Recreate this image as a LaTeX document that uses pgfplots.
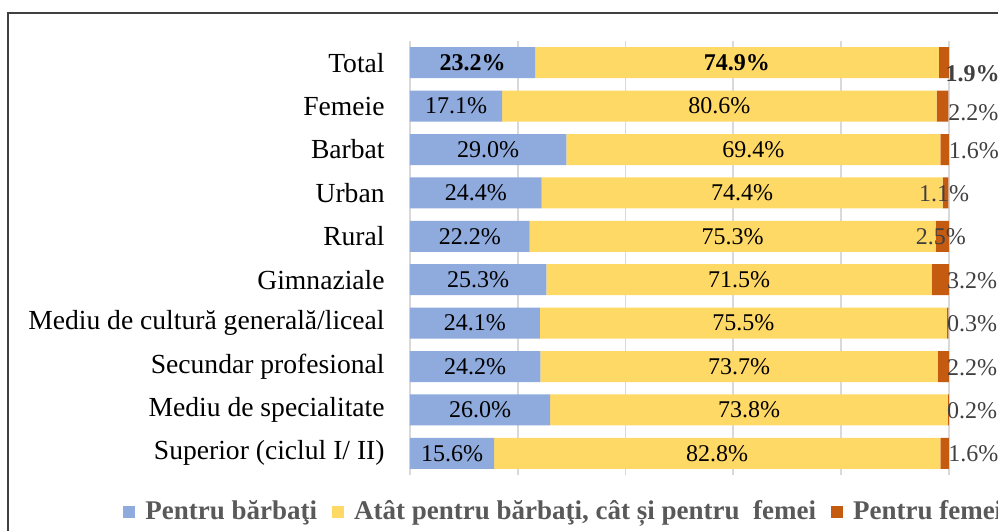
\documentclass[border=0pt]{standalone}
\usepackage{fontspec}
\setmainfont{Liberation Serif}
\usepackage{pgfplots}
\usepackage{pgfplotstable}
\pgfplotsset{compat=1.18}

\definecolor{cBlue}{HTML}{8FAADC}
\definecolor{cYellow}{HTML}{FFD966}
\definecolor{cOrange}{HTML}{C55A11}
\definecolor{cGrid}{HTML}{D9D9D9}
\definecolor{cLab}{HTML}{404040}
\definecolor{cLeg}{HTML}{595959}

% a = barbati, b = ambele, c = femei; xl/yl = where the right-hand label sits
\pgfplotstableread{
y a    b    c   xl   yl
0 23.2 74.9 1.9 99.3 0.25
1 17.1 80.6 2.2 99.8 1.15
2 29.0 69.4 1.6 99.9 2.02
3 24.4 74.4 1.1 94.4 3.02
4 22.2 75.3 2.5 93.8 4.02
5 25.3 71.5 3.2 99.6 5.02
6 24.1 75.5 0.3 99.6 6.02
7 24.2 73.7 2.2 99.6 7.02
8 26.0 73.8 0.2 99.6 8.02
9 15.6 82.8 1.6 99.8 9.02
}\data

\pgfplotsset{
  base/.style={
    at={(205pt,28pt)}, anchor=south west,
    scale only axis, width=269.5pt, height=217pt,
    xmin=0, xmax=100, ymin=-0.5, ymax=9.5, y dir=reverse,
  },
  lab/.style={draw=none, mark=none, nodes near coords align=center,
    every node near coord/.append style={inner sep=0pt,
      font=\fontsize{12}{14}\selectfont, text=black}},
  rlab/.style={draw=none, mark=none, nodes near coords align=west,
    every node near coord/.append style={inner sep=0pt,
      font=\fontsize{12}{14}\selectfont, text=cLab}},
}

\begin{document}
\begin{tikzpicture}
\begin{axis}[
    base,
    xbar stacked,
    bar width=15.5pt,
    xtick={0,20,...,100},
    xticklabels={},
    xmajorgrids,
    grid style={cGrid, line width=0.9pt},
    major tick length=0pt,
    axis line style={draw=none},
    ytick={0,...,9},
    yticklabels={Total, Femeie, Barbat, Urban, Rural, Gimnaziale,
      Mediu de cultură generală/liceal, Secundar profesional,
      Mediu de specialitate, Superior (ciclul I/ II)},
    yticklabel style={font=\fontsize{13.8}{16}\selectfont, text=black,
      inner sep=0pt, xshift=-12.5pt},
    legend columns=3,
    legend style={at={(-0.5325,-0.085)}, anchor=west, draw=none, fill=none,
      inner sep=0pt, font=\bfseries\fontsize{13.5}{16}\selectfont, text=cLeg,
      /tikz/every even column/.append style={column sep=5.5pt}},
    legend image code/.code={\fill[#1] (0pt,-3pt) rectangle (6pt,3pt);
      \path (9pt,0pt);},
]
\addplot[fill=cBlue, draw=none] table[x=a, y=y] {\data};
\addlegendentry{Pentru bărbaţi}
\addplot[fill=cYellow, draw=none] table[x=b, y=y] {\data};
\addlegendentry{Atât pentru bărbaţi, cât și pentru\ \ femei}
\addplot[fill=cOrange, draw=none] table[x=c, y=y] {\data};
\addlegendentry{Pentru femei}
\end{axis}

\begin{axis}[
    base,
    hide axis,
    clip=false,
    point meta=explicit,
    nodes near coords={\pgfmathprintnumber[fixed, fixed zerofill, precision=1,
      assume math mode=true]{\pgfplotspointmeta}\%},
]
% labels inside the blue and yellow parts
\addplot[lab, restrict y to domain=0.5:10] table[x expr=\thisrow{a}/2, y=y, meta=a] {\data};
\addplot[lab, restrict y to domain=0.5:10] table[x expr=\thisrow{a}+\thisrow{b}/2, y=y, meta=b] {\data};
\addplot[lab, restrict y to domain=-1:0.5,
  every node near coord/.append style={font=\bfseries\fontsize{12}{14}\selectfont}]
  table[x expr=\thisrow{a}/2, y=y, meta=a] {\data};
\addplot[lab, restrict y to domain=-1:0.5,
  every node near coord/.append style={font=\bfseries\fontsize{12}{14}\selectfont}]
  table[x expr=\thisrow{a}+\thisrow{b}/2, y=y, meta=b] {\data};
% labels for the orange part, right of the bars
\addplot[rlab, restrict y to domain=0.5:10] table[x=xl, y=yl, meta=c] {\data};
\addplot[rlab, restrict y to domain=-1:0.5,
  every node near coord/.append style={font=\bfseries\fontsize{12}{14}\selectfont}]
  table[x=xl, y=yl, meta=c] {\data};
\end{axis}

\draw[cLab, line width=0.6pt] (4pt,-5pt) -- (4pt,259pt) -- (510pt,259pt);
\pgfresetboundingbox
\path[use as bounding box] (0pt,0pt) rectangle (499pt,265.5pt);
\end{tikzpicture}
\end{document}
